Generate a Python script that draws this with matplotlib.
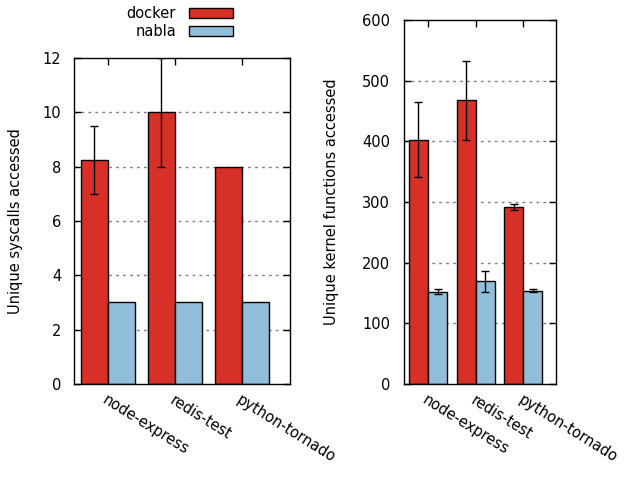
import matplotlib
matplotlib.use("Agg")
import matplotlib.pyplot as plt
import numpy as np
from matplotlib.patches import Rectangle

apps = ["node-express", "redis-test", "python-tornado"]

syscalls_docker = [8.25, 10, 8]
syscalls_docker_err = [1.25, 2, 0]
syscalls_nabla = [3, 3, 3]
syscalls_nabla_err = [0, 0, 0]

kfuncs_docker = [403, 468, 292]
kfuncs_docker_err = [62, 65, 5]
kfuncs_nabla = [152, 169, 154]
kfuncs_nabla_err = [4, 17, 3]

red = "#d73027"
blue = "#91bfdb"
plt.rcParams["font.family"] = "DejaVu Sans"
plt.rcParams["font.size"] = 10

fig = plt.figure(figsize=(6.4, 4.8), dpi=100)
ax1 = fig.add_axes([0.1156, 0.2, 0.3375, 0.6792])
ax2 = fig.add_axes([0.6312, 0.2, 0.2375, 0.7583])

def errs(ax, xs, ys, es):
    xs, ys, es = np.array(xs), np.array(ys), np.array(es)
    m = es > 0
    if m.any():
        ax.errorbar(xs[m], ys[m], yerr=es[m], fmt="none", ecolor="black",
                    elinewidth=1, capsize=3, capthick=1, zorder=3)

def draw(ax, d, de, n, ne, ymax, step, ylabel, ypad, labx):
    x = np.arange(len(apps))
    w = 0.4
    ax.bar(x - w/2, d, w, color=red, edgecolor="black", lw=1, zorder=2)
    ax.bar(x + w/2, n, w, color=blue, edgecolor="black", lw=1, zorder=2)
    errs(ax, x - w/2, d, de)
    errs(ax, x + w/2, n, ne)
    ax.set_ylim(0, ymax)
    ax.set_yticks(np.arange(0, ymax + step, step))
    ax.set_xticks(x)
    ax.set_xticklabels(apps, rotation=-32, ha="left", va="top",
                       rotation_mode="anchor", fontsize=10.5)
    ax.tick_params(direction="in", top=True, right=True, length=5, width=1)
    ax.tick_params(axis="x", pad=6)
    ax.tick_params(axis="y", pad=ypad, labelsize=10.5)
    for g in np.arange(step, ymax, step):
        ax.axhline(g, color="#808080", lw=1, ls=(0, (2, 3)), zorder=1)
    for s in ax.spines.values():
        s.set_linewidth(1)
    ax.set_ylabel(ylabel, fontsize=10.5, va="center")
    ax.yaxis.set_label_coords(labx, 0.5)

draw(ax1, syscalls_docker, syscalls_docker_err, syscalls_nabla, syscalls_nabla_err,
     12, 2, "Unique syscalls accessed", 9, -0.273)
ax1.set_xlim(-0.505, 2.72)
draw(ax2, kfuncs_docker, kfuncs_docker_err, kfuncs_nabla, kfuncs_nabla_err,
     600, 100, "Unique kernel functions accessed", 10, -0.474)
ax2.set_xlim(-0.505, 2.69)

# key at the top, gnuplot style: text then sample
for i, (lab, col) in enumerate([("docker", red), ("nabla", blue)]):
    yc = 1 - (13 + 18 * i) / 480
    fig.text(176 / 640, yc, lab, ha="right", va="center", fontsize=10.5)
    fig.patches.append(Rectangle((189 / 640, yc - 4.5 / 480), 44 / 640, 9 / 480,
                                 transform=fig.transFigure, facecolor=col,
                                 edgecolor="black", lw=1))

fig.savefig("out.png", dpi=100)
